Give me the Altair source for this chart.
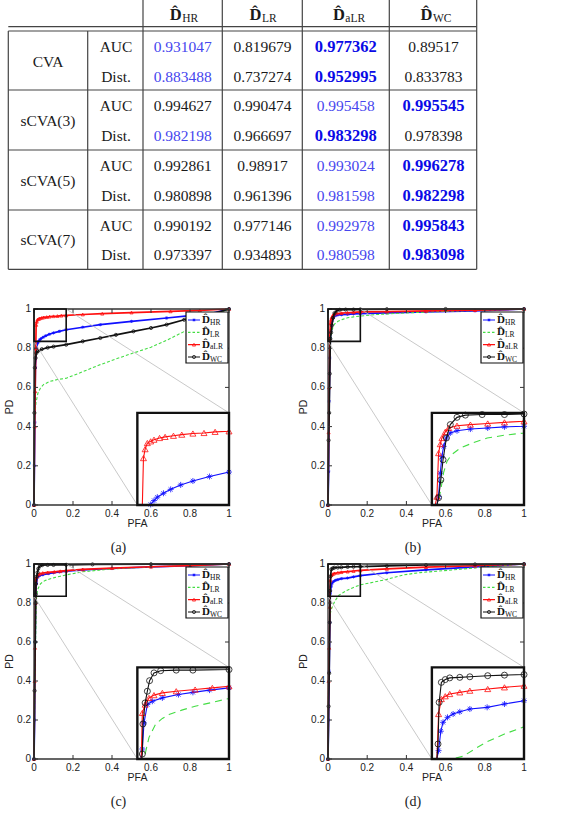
import altair as alt
import pandas as pd

# ------------------------------------------------------------------ table data
METHODS = ["CVA", "sCVA(3)", "sCVA(5)", "sCVA(7)"]
METRICS = ["AUC", "Dist."]
DETECTORS = ["HR", "LR", "aLR", "WC"]
AUC_HR = [0.931047, 0.994627, 0.992861, 0.990192]
AUC_LR = [0.819679, 0.990474, 0.98917, 0.977146]
AUC_ALR = [0.977362, 0.995458, 0.993024, 0.992978]
AUC_WC = [0.89517, 0.995545, 0.996278, 0.995843]
DIST_HR = [0.883488, 0.982198, 0.980898, 0.973397]
DIST_LR = [0.737274, 0.966697, 0.961396, 0.934893]
DIST_ALR = [0.952995, 0.983298, 0.981598, 0.980598]
DIST_WC = [0.833783, 0.978398, 0.982298, 0.983098]

# ------------------------------------------------------------------ ROC curves (PFA, PD)
A_HR_PFA = [0, 0.002, 0.004, 0.007, 0.012, 0.02, 0.024, 0.03, 0.036, 0.047, 0.06, 0.078, 0.1, 0.13, 0.165, 0.25, 0.34, 0.5, 0.68, 0.8, 0.9, 1.0]
A_HR_PD = [0, 0.2, 0.42, 0.7, 0.8, 0.828, 0.836, 0.843, 0.849, 0.856, 0.863, 0.871, 0.878, 0.886, 0.894, 0.907, 0.92, 0.937, 0.954, 0.966, 0.975, 1.0]
A_LR_PFA = [0, 0.001, 0.003, 0.006, 0.01, 0.02, 0.035, 0.05, 0.08, 0.12, 0.166, 0.25, 0.337, 0.42, 0.508, 0.6, 0.68, 0.78, 0.88, 1.0]
A_LR_PD = [0, 0.2, 0.4, 0.48, 0.52, 0.57, 0.6, 0.615, 0.63, 0.64, 0.647, 0.68, 0.715, 0.745, 0.775, 0.805, 0.84, 0.89, 0.935, 1.0]
A_ALR_PFA = [0, 0.003, 0.006, 0.009, 0.011, 0.014, 0.018, 0.024, 0.03, 0.04, 0.05, 0.065, 0.08, 0.1, 0.12, 0.14, 0.165, 0.25, 0.35, 0.5, 0.7, 0.85, 1.0]
A_ALR_PD = [0, 0.4, 0.58, 0.8, 0.919, 0.935, 0.946, 0.949, 0.952, 0.955, 0.957, 0.959, 0.961, 0.963, 0.964, 0.966, 0.967, 0.972, 0.976, 0.982, 0.988, 0.993, 1.0]
A_WC_PFA = [0, 0.002, 0.004, 0.008, 0.012, 0.02, 0.04, 0.07, 0.1, 0.165, 0.25, 0.34, 0.42, 0.51, 0.6, 0.68, 0.77, 0.88, 1.0]
A_WC_PD = [0, 0.47, 0.7, 0.75, 0.775, 0.785, 0.795, 0.803, 0.808, 0.818, 0.835, 0.852, 0.868, 0.886, 0.903, 0.92, 0.945, 0.965, 1.0]

B_HR_PFA = [0, 0.003, 0.006, 0.009, 0.012, 0.015, 0.018, 0.021, 0.026, 0.033, 0.045, 0.069, 0.1, 0.13, 0.165, 0.3, 0.5, 0.75, 1.0]
B_HR_PD = [0, 0.17, 0.53, 0.75, 0.85, 0.892, 0.922, 0.94, 0.955, 0.964, 0.968, 0.971, 0.973, 0.975, 0.976, 0.98, 0.985, 0.99, 1.0]
B_LR_PFA = [0, 0.003, 0.006, 0.01, 0.016, 0.021, 0.027, 0.035, 0.051, 0.075, 0.099, 0.13, 0.165, 0.25, 0.4, 0.6, 0.8, 1.0]
B_LR_PD = [0, 0.3, 0.6, 0.8, 0.862, 0.893, 0.913, 0.925, 0.937, 0.947, 0.955, 0.96, 0.964, 0.972, 0.98, 0.988, 0.994, 1.0]
B_ALR_PFA = [0, 0.003, 0.006, 0.009, 0.012, 0.015, 0.018, 0.024, 0.03, 0.045, 0.069, 0.1, 0.13, 0.165, 0.3, 0.5, 0.75, 1.0]
B_ALR_PD = [0, 0.37, 0.6, 0.85, 0.928, 0.944, 0.955, 0.966, 0.973, 0.977, 0.979, 0.981, 0.983, 0.985, 0.987, 0.99, 0.994, 1.0]
B_WC_PFA = [0, 0.003, 0.006, 0.009, 0.012, 0.016, 0.02, 0.026, 0.033, 0.045, 0.06, 0.09, 0.13, 0.165, 0.3, 0.6, 1.0]
B_WC_PD = [0, 0.33, 0.47, 0.67, 0.848, 0.88, 0.916, 0.955, 0.979, 0.992, 0.996, 0.997, 0.997, 0.998, 0.999, 1.0, 1.0]

C_HR_PFA = [0, 0.003, 0.006, 0.009, 0.012, 0.018, 0.027, 0.045, 0.074, 0.1, 0.13, 0.165, 0.25, 0.4, 0.6, 0.8, 1.0]
C_HR_PD = [0, 0.2, 0.6, 0.853, 0.9, 0.933, 0.939, 0.945, 0.951, 0.955, 0.959, 0.963, 0.97, 0.977, 0.985, 0.991, 1.0]
C_LR_PFA = [0, 0.004, 0.008, 0.012, 0.014, 0.021, 0.033, 0.045, 0.057, 0.08, 0.104, 0.135, 0.165, 0.25, 0.4, 0.6, 0.8, 1.0]
C_LR_PD = [0, 0.3, 0.6, 0.8, 0.844, 0.874, 0.898, 0.908, 0.915, 0.923, 0.93, 0.937, 0.944, 0.96, 0.975, 0.985, 0.993, 1.0]
C_ALR_PFA = [0, 0.003, 0.005, 0.007, 0.009, 0.014, 0.021, 0.03, 0.045, 0.07, 0.104, 0.135, 0.165, 0.25, 0.4, 0.6, 0.8, 1.0]
C_ALR_PD = [0, 0.4, 0.57, 0.8, 0.918, 0.933, 0.945, 0.95, 0.954, 0.957, 0.96, 0.963, 0.966, 0.972, 0.979, 0.986, 0.992, 1.0]
C_WC_PFA = [0, 0.003, 0.006, 0.008, 0.009, 0.01, 0.014, 0.018, 0.022, 0.03, 0.042, 0.07, 0.1, 0.165, 0.3, 0.6, 1.0]
C_WC_PD = [0, 0.35, 0.6, 0.8, 0.844, 0.898, 0.936, 0.957, 0.976, 0.99, 0.994, 0.995, 0.995, 0.996, 0.998, 0.999, 1.0]

D_HR_PFA = [0, 0.003, 0.006, 0.009, 0.012, 0.016, 0.02, 0.028, 0.038, 0.05, 0.068, 0.099, 0.13, 0.165, 0.3, 0.5, 0.75, 1.0]
D_HR_PD = [0, 0.2, 0.45, 0.7, 0.85, 0.885, 0.901, 0.91, 0.916, 0.92, 0.925, 0.928, 0.934, 0.94, 0.955, 0.97, 0.985, 1.0]
D_LR_PFA = [0, 0.002, 0.005, 0.01, 0.019, 0.035, 0.056, 0.08, 0.099, 0.13, 0.165, 0.214, 0.3, 0.384, 0.47, 0.64, 0.78, 1.0]
D_LR_PD = [0, 0.3, 0.6, 0.74, 0.773, 0.81, 0.84, 0.855, 0.866, 0.88, 0.893, 0.903, 0.921, 0.944, 0.956, 0.97, 0.983, 1.0]
D_ALR_PFA = [0, 0.003, 0.006, 0.009, 0.012, 0.017, 0.024, 0.032, 0.05, 0.068, 0.1, 0.13, 0.165, 0.3, 0.5, 0.75, 1.0]
D_ALR_PD = [0, 0.4, 0.57, 0.78, 0.916, 0.943, 0.948, 0.952, 0.955, 0.958, 0.961, 0.964, 0.967, 0.975, 0.984, 0.991, 1.0]
D_WC_PFA = [0, 0.003, 0.006, 0.009, 0.011, 0.013, 0.017, 0.024, 0.032, 0.05, 0.068, 0.1, 0.13, 0.165, 0.3, 0.5, 0.75, 1.0]
D_WC_PD = [0, 0.27, 0.44, 0.7, 0.862, 0.937, 0.973, 0.978, 0.981, 0.982, 0.983, 0.985, 0.986, 0.987, 0.99, 0.995, 0.998, 1.0]

AXIS_TICKS = [0, 0.2, 0.4, 0.6, 0.8, 1]
AXIS_TICK_LABELS = ["0", "0.2", "0.4", "0.6", "0.8", "1"]
CAPTIONS = ["(a)", "(b)", "(c)", "(d)"]

CURVES = {
    "a": {"HR": (A_HR_PFA, A_HR_PD), "LR": (A_LR_PFA, A_LR_PD), "aLR": (A_ALR_PFA, A_ALR_PD), "WC": (A_WC_PFA, A_WC_PD)},
    "b": {"HR": (B_HR_PFA, B_HR_PD), "LR": (B_LR_PFA, B_LR_PD), "aLR": (B_ALR_PFA, B_ALR_PD), "WC": (B_WC_PFA, B_WC_PD)},
    "c": {"HR": (C_HR_PFA, C_HR_PD), "LR": (C_LR_PFA, C_LR_PD), "aLR": (C_ALR_PFA, C_ALR_PD), "WC": (C_WC_PFA, C_WC_PD)},
    "d": {"HR": (D_HR_PFA, D_HR_PD), "LR": (D_LR_PFA, D_LR_PD), "aLR": (D_ALR_PFA, D_ALR_PD), "WC": (D_WC_PFA, D_WC_PD)},
}

# ------------------------------------------------------------------ styles / layout
SERIF = "Liberation Serif"
SANS = "Liberation Sans"
COLORS = {"HR": "#1010ff", "LR": "#44dd44", "aLR": "#ff1010", "WC": "#111111"}
ASTER = "M-1,0L1,0M0,-1L0,1M-0.7,-0.7L0.7,0.7M-0.7,0.7L0.7,-0.7"
SHAPES = {"HR": ASTER, "aLR": "triangle-up", "WC": "circle"}
ZX0, ZX1, ZY0, ZY1 = 0.0, 0.165, 0.835, 1.0      # zoomed window
IX0, IY1 = 0.53, 0.47                            # inset placement (axes fraction)
BOXES = {"a": (34, 309, 229, 505), "b": (328, 309, 524, 505),
         "c": (34, 564, 229, 759), "d": (328, 564, 524, 759)}

ONE = pd.DataFrame({"z": [0]})
layers = []

# ------------------------------------------------------------------ table
TX = alt.Scale(type="linear", domain=[0, 1, 2, 3, 4, 5],
               range=[48, 116, 182.7, 262.5, 345.8, 433.5], nice=False, zero=False)
TY = alt.Scale(type="linear", domain=[0, 1, 8], range=[15, 46.7, 255.3], nice=False, zero=False)

rows = []
auc = [AUC_HR, AUC_LR, AUC_ALR, AUC_WC]
dist = [DIST_HR, DIST_LR, DIST_ALR, DIST_WC]
for i, m in enumerate(METHODS):
    rows.append({"k": 1.5 + 2 * i, "c": 0, "txt": m, "sty": "plain"})
    for j, (met, arrs) in enumerate(zip(METRICS, [auc, dist])):
        k = 1 + 2 * i + j
        rows.append({"k": k, "c": 1, "txt": met, "sty": "plain"})
        vals = [a[i] for a in arrs]
        ranked = sorted(vals, reverse=True)
        for c, v in enumerate(vals):
            sty = "best" if v == ranked[0] else ("second" if v == ranked[1] else "plain")
            rows.append({"k": k, "c": 2 + c, "txt": str(v), "sty": sty})
tdf = pd.DataFrame(rows)
hdf = pd.DataFrame({"k": [0] * 4, "c": [2, 3, 4, 5], "sub": DETECTORS})

tbase = alt.Chart(tdf)
enc = dict(x=alt.X("c:Q", scale=TX, axis=None), y=alt.Y("k:Q", scale=TY, axis=None), text="txt:N")
layers.append(tbase.transform_filter(alt.datum.sty == "plain")
              .mark_text(font=SERIF, fontSize=15.5, color="#1a1a1a", baseline="middle").encode(**enc))
layers.append(tbase.transform_filter(alt.datum.sty == "second")
              .mark_text(font=SERIF, fontSize=15.5, color="#4646ee", baseline="middle").encode(**enc))
layers.append(tbase.transform_filter(alt.datum.sty == "best")
              .mark_text(font=SERIF, fontSize=16.5, fontWeight="bold", color="#0a0ae6", baseline="middle").encode(**enc))
hb = alt.Chart(hdf)
layers.append(hb.mark_text(font=SERIF, fontSize=16.5, fontWeight="bold", color="#1a1a1a", align="right",
                           baseline="middle", dx=-1, text="D\u0302")
              .encode(x=alt.X("c:Q", scale=TX, axis=None), y=alt.Y("k:Q", scale=TY, axis=None)))
layers.append(hb.mark_text(font=SERIF, fontSize=11.5, color="#1a1a1a", align="left", baseline="middle", dx=-0.5, dy=3.5)
              .encode(x=alt.X("c:Q", scale=TX, axis=None), y=alt.Y("k:Q", scale=TY, axis=None), text="sub:N"))

# table rules (layout geometry)
TL_V = [(143, 0, 269.3), (222.3, 0, 269.3), (302.3, 0, 269.3), (389.3, 0, 269.3), (476.7, 0, 269.3),
        (8.3, 31, 269.3), (87.7, 31, 269.3)]
TL_H = [26.7, 31, 90, 150, 210, 269.3]
gl = [{"x": v[0], "x2": v[0], "y": v[1], "y2": v[2]} for v in TL_V] + \
     [{"x": 8.3, "x2": 476.7, "y": h, "y2": h} for h in TL_H]
layers.append(alt.Chart(pd.DataFrame(gl)).mark_rule(color="#444444", strokeWidth=1.2).encode(
    x=alt.X("x:Q", scale=None), x2="x2:Q", y=alt.Y("y:Q", scale=None), y2="y2:Q"))

# ------------------------------------------------------------------ panels
tick_df = pd.DataFrame({"t": AXIS_TICKS, "lab": AXIS_TICK_LABELS})
leg_df = pd.DataFrame({"s": DETECTORS, "sub": DETECTORS})
CSCALE = alt.Scale(domain=DETECTORS, range=[COLORS[s] for s in DETECTORS])
DSCALE = alt.Scale(domain=DETECTORS, range=[[1, 0], [2.5, 2], [1, 0], [1, 0]])
SSCALE = alt.Scale(domain=["HR", "aLR", "WC"], range=[SHAPES["HR"], SHAPES["aLR"], SHAPES["WC"]])

for key, cap in zip(["a", "b", "c", "d"], CAPTIONS):
    L, T, R, B = BOXES[key]
    X = alt.Scale(domain=[0, 1], range=[L, R], nice=False, zero=False)
    Y = alt.Scale(domain=[0, 1], range=[B, T], nice=False, zero=False)
    XI = alt.Scale(domain=[ZX0, ZX1], range=[L + IX0 * (R - L), R], nice=False, zero=False, clamp=True)
    YI = alt.Scale(domain=[ZY0, ZY1], range=[B, B - IY1 * (B - T)], nice=False, zero=False, clamp=True)
    one = alt.Chart(ONE)
    tk = alt.Chart(tick_df)

    rows = []
    for s in DETECTORS:
        px, py = CURVES[key][s]
        for i, (a, b) in enumerate(zip(px, py)):
            rows.append({"s": s, "i": i, "pfa": a, "pd": b})
    cd = alt.Chart(pd.DataFrame(rows))

    # main curves
    for s in DETECTORS:
        sel = cd.transform_filter(alt.datum.s == s)
        kw = {"strokeDash": [3, 2], "strokeWidth": 1.1} if s == "LR" else {"strokeWidth": 1.7}
        layers.append(sel.mark_line(color=COLORS[s], **kw).encode(
            x=alt.X("pfa:Q", scale=X, axis=None), y=alt.Y("pd:Q", scale=Y, axis=None), order="i:Q"))
        if s in SHAPES:
            layers.append(sel.mark_point(shape=SHAPES[s], filled=False, size=10, strokeWidth=0.8,
                                         color=COLORS[s], opacity=1).encode(
                x=alt.X("pfa:Q", scale=X, axis=None), y=alt.Y("pd:Q", scale=Y, axis=None)))

    # frame + ticks
    layers.append(one.mark_rect(fill="white", fillOpacity=0, stroke="#333333", strokeWidth=1.3).encode(
        x=alt.X(datum=0, scale=X, axis=None), x2=alt.X2(datum=1),
        y=alt.Y(datum=0, scale=Y, axis=None), y2=alt.Y2(datum=1)))
    tlx = 4.0 / (R - L)
    tly = 4.0 / (B - T)
    for y0, y1 in [(0, tly), (1, 1 - tly)]:
        layers.append(tk.mark_rule(color="#333333", strokeWidth=1).encode(
            x=alt.X("t:Q", scale=X, axis=None), y=alt.Y(datum=y0, scale=Y, axis=None), y2=alt.Y2(datum=y1)))
    for x0, x1 in [(0, tlx), (1, 1 - tlx)]:
        layers.append(tk.mark_rule(color="#333333", strokeWidth=1).encode(
            y=alt.Y("t:Q", scale=Y, axis=None), x=alt.X(datum=x0, scale=X, axis=None), x2=alt.X2(datum=x1)))
    layers.append(tk.mark_text(font=SANS, fontSize=10, color="#222222", baseline="middle", dy=9).encode(
        x=alt.X("t:Q", scale=X, axis=None), y=alt.Y(datum=0, scale=Y, axis=None), text="lab:N"))
    layers.append(tk.mark_text(font=SANS, fontSize=10, color="#222222", baseline="middle", align="right", dx=-3).encode(
        y=alt.Y("t:Q", scale=Y, axis=None), x=alt.X(datum=0, scale=X, axis=None), text="lab:N"))
    layers.append(one.mark_text(font=SANS, fontSize=10.5, color="#222222", baseline="middle", dy=19, dx=6,
                                text="PFA").encode(
        x=alt.X(datum=0.5, scale=X, axis=None), y=alt.Y(datum=0, scale=Y, axis=None)))
    layers.append(one.mark_text(font=SANS, fontSize=10.5, color="#222222", baseline="middle", angle=270, text="PD").encode(
        x=alt.value(L - 24), y=alt.Y(datum=0.5, scale=Y, axis=None)))

    # zoom window and connectors
    layers.append(one.mark_rule(color="#bbbbbb", strokeWidth=0.8).encode(
        x=alt.X(datum=ZX1, scale=X, axis=None), x2=alt.X2(datum=1),
        y=alt.Y(datum=ZY1, scale=Y, axis=None), y2=alt.Y2(datum=IY1)))
    layers.append(one.mark_rule(color="#bbbbbb", strokeWidth=0.8).encode(
        x=alt.X(datum=ZX0, scale=X, axis=None), x2=alt.X2(datum=IX0),
        y=alt.Y(datum=ZY0, scale=Y, axis=None), y2=alt.Y2(datum=0)))
    layers.append(one.mark_rect(fill="white", fillOpacity=0, stroke="#111111", strokeWidth=1.6).encode(
        x=alt.X(datum=ZX0, scale=X, axis=None), x2=alt.X2(datum=ZX1),
        y=alt.Y(datum=ZY0, scale=Y, axis=None), y2=alt.Y2(datum=ZY1)))

    # inset
    layers.append(one.mark_rect(fill="white", strokeWidth=0).encode(
        x=alt.X(datum=IX0, scale=X, axis=None), x2=alt.X2(datum=1),
        y=alt.Y(datum=0, scale=Y, axis=None), y2=alt.Y2(datum=IY1)))
    for s in DETECTORS:
        sel = cd.transform_filter(alt.datum.s == s)
        kw = {"strokeDash": [7, 5]} if s == "LR" else {}
        layers.append(sel.mark_line(color=COLORS[s], strokeWidth=1.1, **kw).encode(
            x=alt.X("pfa:Q", scale=XI, axis=None), y=alt.Y("pd:Q", scale=YI, axis=None), order="i:Q"))
        if s in SHAPES:
            inside = sel.transform_filter((alt.datum.pfa <= ZX1) & (alt.datum.pd >= ZY0))
            layers.append(inside.mark_point(shape=SHAPES[s], filled=False, size=36, strokeWidth=0.8,
                                            color=COLORS[s], opacity=1).encode(
                x=alt.X("pfa:Q", scale=XI, axis=None), y=alt.Y("pd:Q", scale=YI, axis=None)))
    layers.append(one.mark_rect(fill="white", fillOpacity=0, stroke="#111111", strokeWidth=2.4).encode(
        x=alt.X(datum=IX0, scale=X, axis=None), x2=alt.X2(datum=1),
        y=alt.Y(datum=0, scale=Y, axis=None), y2=alt.Y2(datum=IY1)))

    # legend
    LY = alt.Scale(type="point", domain=DETECTORS, range=[T + 11, T + 48], padding=0)
    lg = alt.Chart(leg_df)
    layers.append(one.mark_rect(fill="white", stroke="#111111", strokeWidth=1.2).encode(
        x=alt.value(R - 43), x2=alt.value(R - 1), y=alt.value(T + 3), y2=alt.value(T + 54)))
    layers.append(lg.mark_rule(strokeWidth=1.1).encode(
        x=alt.value(R - 41), x2=alt.value(R - 29), y=alt.Y("s:N", scale=LY, axis=None),
        color=alt.Color("s:N", scale=CSCALE, legend=None),
        strokeDash=alt.StrokeDash("s:N", scale=DSCALE, legend=None)))
    layers.append(lg.transform_filter(alt.datum.s != "LR").mark_point(filled=False, size=10, strokeWidth=0.8, opacity=1).encode(
        x=alt.value(R - 35), y=alt.Y("s:N", scale=LY, axis=None),
        color=alt.Color("s:N", scale=CSCALE, legend=None),
        shape=alt.Shape("s:N", scale=SSCALE, legend=None)))
    layers.append(lg.mark_text(font=SERIF, fontSize=11, fontWeight="bold", color="#111111", align="left",
                               baseline="middle", text="D\u0302").encode(
        x=alt.value(R - 27), y=alt.Y("s:N", scale=LY, axis=None)))
    layers.append(lg.mark_text(font=SERIF, fontSize=7.5, color="#111111", align="left", baseline="middle", dy=2.5).encode(
        x=alt.value(R - 19), y=alt.Y("s:N", scale=LY, axis=None), text="sub:N"))

    # caption
    layers.append(one.mark_text(font=SERIF, fontSize=14, color="#222222", baseline="middle", text=cap).encode(
        x=alt.value((L + R) / 2 - 13), y=alt.value(B + 43)))

chart = alt.layer(*layers).resolve_scale(x="independent", y="independent").properties(
    width=567, height=824, padding=0, autosize=alt.AutoSizeParams(type="none"), background="white"
).configure_view(stroke=None)

chart.save("out.html", embed_options={"renderer": "svg", "actions": False})
